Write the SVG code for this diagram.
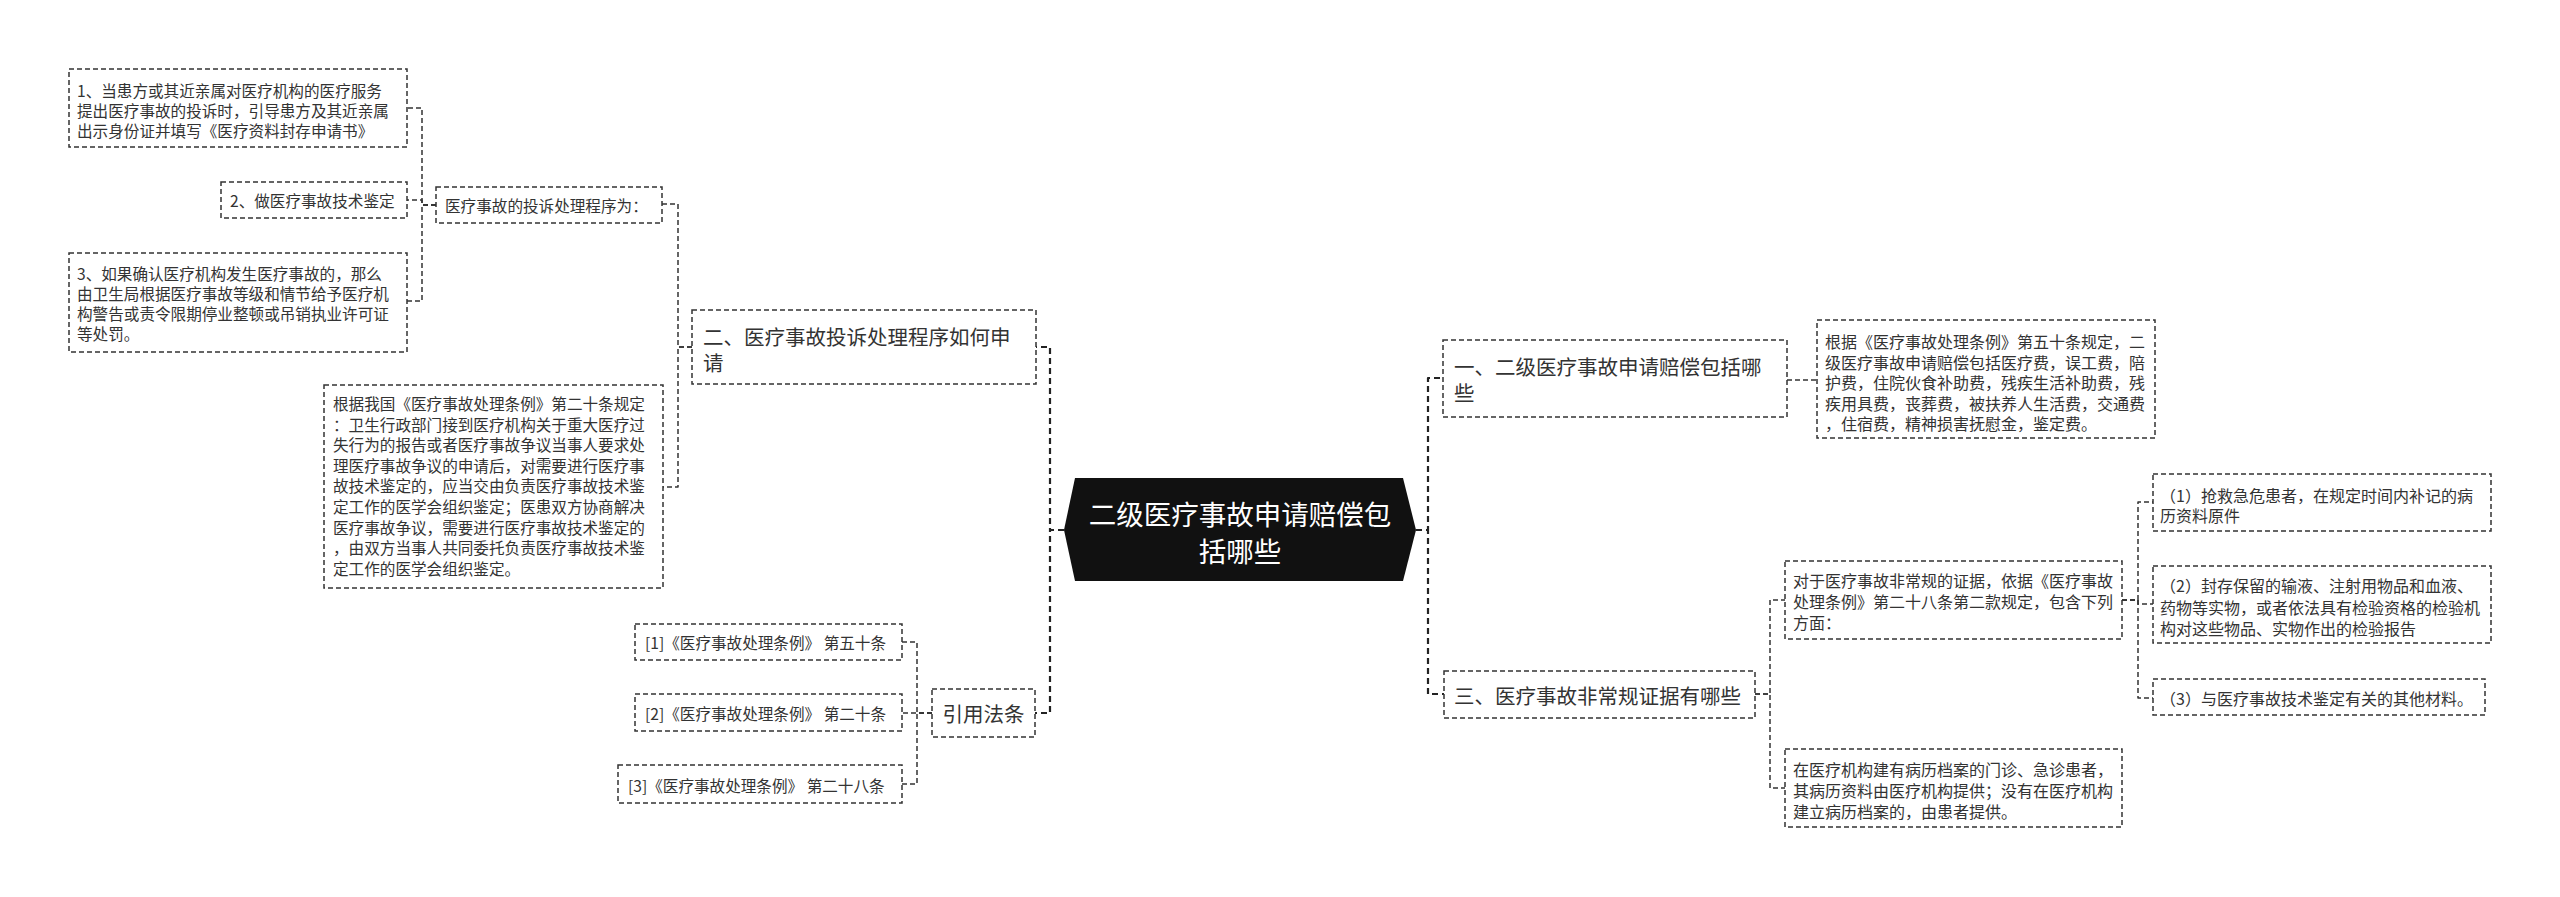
<svg xmlns="http://www.w3.org/2000/svg" width="2560" height="897" viewBox="0 0 2560 897">
<style>
.box{fill:#fff;stroke:#333;stroke-width:1.5;stroke-dasharray:5 3}
.c{fill:none;stroke:#333;stroke-width:1.5;stroke-dasharray:5 3;stroke-linejoin:round}
.cm{fill:none;stroke:#222;stroke-width:2.2;stroke-dasharray:6 4;stroke-linejoin:round}
text{font-family:"Noto Sans CJK SC","Noto Sans",sans-serif;fill:#333;dominant-baseline:central}
.s{font-size:15.6px}
.sr{font-size:16px}
.m{font-size:20.5px}
.t{font-size:27.5px;fill:#fff;text-anchor:middle}
</style>
<rect width="2560" height="897" fill="#fff"/>
<g id="connectors">
<path class="cm" d="M1064,530 H1050 V347 H1036"/>
<path class="cm" d="M1064,530 H1050 V713 H1035"/>
<path class="cm" d="M1416,530 H1428 V378 H1443"/>
<path class="cm" d="M1416,530 H1428 V694 H1444"/>
<path class="c" d="M692,347 H678 V204 H662"/>
<path class="c" d="M692,347 H678 V487 H663"/>
<path class="c" d="M436,205 H422 V108 H407"/>
<path class="c" d="M436,205 H422 V200 H407"/>
<path class="c" d="M436,205 H422 V301 H407"/>
<path class="c" d="M932,713 H917 V642 H902"/>
<path class="c" d="M932,713 H902"/>
<path class="c" d="M932,713 H917 V784 H902"/>
<path class="c" d="M1787,380 H1817"/>
<path class="c" d="M1755,694 H1770 V600 H1785"/>
<path class="c" d="M1755,694 H1770 V788 H1785"/>
<path class="c" d="M2122,600 H2138 V502 H2153"/>
<path class="c" d="M2122,600 H2138 V604 H2153"/>
<path class="c" d="M2122,600 H2138 V698 H2153"/>
</g>
<g id="root">
<polygon points="1064,530 1075,478 1403,478 1416,530 1403,581 1075,581" fill="#111"/>
<text class="t" x="1240" y="513">二级医疗事故申请赔偿包</text>
<text class="t" x="1240" y="550">括哪些</text>
</g>
<g id="n-complaint">
<rect class="box" x="692" y="310" width="344" height="74"/>
<text class="m" x="703" y="336">二、医疗事故投诉处理程序如何申</text>
<text class="m" x="703" y="362">请</text>
</g>
<g id="n-procedure">
<rect class="box" x="436" y="187" width="226" height="36"/>
<text class="s" x="445" y="205">医疗事故的投诉处理程序为：</text>
</g>
<g id="n-step1">
<rect class="box" x="69" y="69" width="338" height="78"/>
<text class="s" x="77" y="90">1、当患方或其近亲属对医疗机构的医疗服务</text>
<text class="s" x="77" y="110">提出医疗事故的投诉时，引导患方及其近亲属</text>
<text class="s" x="77" y="130">出示身份证并填写《医疗资料封存申请书》</text>
</g>
<g id="n-step2">
<rect class="box" x="221" y="182" width="186" height="36"/>
<text class="s" x="230" y="200">2、做医疗事故技术鉴定</text>
</g>
<g id="n-step3">
<rect class="box" x="69" y="253" width="338" height="99"/>
<text class="s" x="77" y="273">3、如果确认医疗机构发生医疗事故的，那么</text>
<text class="s" x="77" y="293">由卫生局根据医疗事故等级和情节给予医疗机</text>
<text class="s" x="77" y="313">构警告或责令限期停业整顿或吊销执业许可证</text>
<text class="s" x="77" y="333">等处罚。</text>
</g>
<g id="n-art20">
<rect class="box" x="324" y="385" width="339" height="203"/>
<text class="s" x="333" y="403">根据我国《医疗事故处理条例》第二十条规定</text>
<text class="s" x="333" y="423.6">：卫生行政部门接到医疗机构关于重大医疗过</text>
<text class="s" x="333" y="444.2">失行为的报告或者医疗事故争议当事人要求处</text>
<text class="s" x="333" y="464.8">理医疗事故争议的申请后，对需要进行医疗事</text>
<text class="s" x="333" y="485.4">故技术鉴定的，应当交由负责医疗事故技术鉴</text>
<text class="s" x="333" y="506">定工作的医学会组织鉴定；医患双方协商解决</text>
<text class="s" x="333" y="526.6">医疗事故争议，需要进行医疗事故技术鉴定的</text>
<text class="s" x="333" y="547.2">，由双方当事人共同委托负责医疗事故技术鉴</text>
<text class="s" x="333" y="567.8">定工作的医学会组织鉴定。</text>
</g>
<g id="n-laws">
<rect class="box" x="932" y="689" width="103" height="48"/>
<text class="m" x="983.5" y="713" text-anchor="middle">引用法条</text>
</g>
<g id="n-law1">
<rect class="box" x="635" y="624" width="267" height="36"/>
<text class="s" x="645" y="642">[1]《医疗事故处理条例》 第五十条</text>
</g>
<g id="n-law2">
<rect class="box" x="635" y="694" width="267" height="37"/>
<text class="s" x="645" y="713">[2]《医疗事故处理条例》 第二十条</text>
</g>
<g id="n-law3">
<rect class="box" x="618" y="765" width="284" height="38"/>
<text class="s" x="628" y="785">[3]《医疗事故处理条例》 第二十八条</text>
</g>
<g id="n-compensation">
<rect class="box" x="1443" y="340" width="344" height="77"/>
<text class="m" x="1454" y="366">一、二级医疗事故申请赔偿包括哪</text>
<text class="m" x="1454" y="392">些</text>
</g>
<g id="n-art50">
<rect class="box" x="1817" y="320" width="338" height="118"/>
<text class="sr" x="1825" y="341">根据《医疗事故处理条例》第五十条规定，二</text>
<text class="sr" x="1825" y="361.5">级医疗事故申请赔偿包括医疗费，误工费，陪</text>
<text class="sr" x="1825" y="382">护费，住院伙食补助费，残疾生活补助费，残</text>
<text class="sr" x="1825" y="402.5">疾用具费，丧葬费，被扶养人生活费，交通费</text>
<text class="sr" x="1825" y="423">，住宿费，精神损害抚慰金，鉴定费。</text>
</g>
<g id="n-evidence">
<rect class="box" x="1444" y="671" width="311" height="47"/>
<text class="m" x="1454" y="695">三、医疗事故非常规证据有哪些</text>
</g>
<g id="n-art28">
<rect class="box" x="1785" y="561" width="337" height="78"/>
<text class="sr" x="1793" y="580">对于医疗事故非常规的证据，依据《医疗事故</text>
<text class="sr" x="1793" y="601">处理条例》第二十八条第二款规定，包含下列</text>
<text class="sr" x="1793" y="622">方面：</text>
</g>
<g id="n-records">
<rect class="box" x="1785" y="749" width="337" height="78"/>
<text class="sr" x="1793" y="769">在医疗机构建有病历档案的门诊、急诊患者，</text>
<text class="sr" x="1793" y="790">其病历资料由医疗机构提供；没有在医疗机构</text>
<text class="sr" x="1793" y="811">建立病历档案的，由患者提供。</text>
</g>
<g id="n-item1">
<rect class="box" x="2153" y="474" width="338" height="57"/>
<text class="sr" x="2160" y="495">（1）抢救急危患者，在规定时间内补记的病</text>
<text class="sr" x="2160" y="515">历资料原件</text>
</g>
<g id="n-item2">
<rect class="box" x="2153" y="566" width="338" height="77"/>
<text class="sr" x="2160" y="585">（2）封存保留的输液、注射用物品和血液、</text>
<text class="sr" x="2160" y="607">药物等实物，或者依法具有检验资格的检验机</text>
<text class="sr" x="2160" y="628">构对这些物品、实物作出的检验报告</text>
</g>
<g id="n-item3">
<rect class="box" x="2153" y="679" width="332" height="36"/>
<text class="sr" x="2160" y="698">（3）与医疗事故技术鉴定有关的其他材料。</text>
</g>
</svg>
